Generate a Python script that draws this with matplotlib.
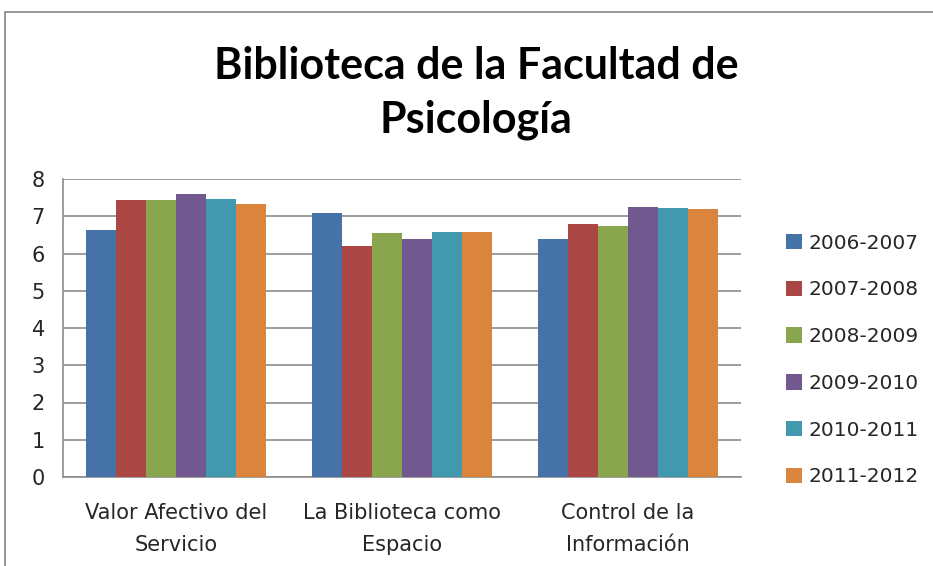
import matplotlib
matplotlib.use("Agg")
import matplotlib.pyplot as plt
import numpy as np
from matplotlib.patches import Rectangle

# ── data ──────────────────────────────────────────────────────────────────────
categories = ["Valor Afectivo del\nServicio", "La Biblioteca como\nEspacio", "Control de la\nInformación"]
series_names = ["2006-2007", "2007-2008", "2008-2009", "2009-2010", "2010-2011", "2011-2012"]
v_2006 = [6.63, 7.09, 6.39]
v_2007 = [7.44, 6.20, 6.78]
v_2008 = [7.44, 6.54, 6.74]
v_2009 = [7.60, 6.39, 7.26]
v_2010 = [7.47, 6.58, 7.23]
v_2011 = [7.33, 6.58, 7.20]
series_values = [v_2006, v_2007, v_2008, v_2009, v_2010, v_2011]
colors = ["#4572A7", "#AA4643", "#89A54E", "#71588F", "#4198AF", "#DB843D"]

W, H = 933, 566
fig = plt.figure(figsize=(W / 100, H / 100), dpi=100)
ax = fig.add_axes([63 / W, 1 - 477 / H, (741 - 63) / W, (477 - 179) / H])

# chart frame (cut off at right / bottom like the screenshot)
fig.patches.append(Rectangle((5 / W, -0.1), 2.0, 1 - 12 / H + 0.1,
                             transform=fig.transFigure, fill=False,
                             edgecolor="#868686", linewidth=1.2))

n = len(series_names)
gap = 1.5
bw = 1.0 / (n + gap)
x = np.arange(len(categories))
for i, (name, vals) in enumerate(zip(series_names, series_values)):
    offs = -0.5 + bw * gap / 2 + bw * (i + 0.5)
    ax.bar(x + offs, vals, width=bw, color=colors[i], label=name,
           linewidth=0, zorder=3)

ax.set_xlim(-0.5, len(categories) - 0.5)
ax.set_ylim(0, 8)
ax.set_yticks(range(0, 9))
ax.yaxis.grid(True, color="#8c8c8c", linewidth=1.2, zorder=0)
ax.set_xticks(x)
ax.set_xticklabels(categories, linespacing=1.75)
ax.tick_params(axis="both", length=0, labelsize=15, labelcolor="#262626")
ax.tick_params(axis="x", pad=19)
ax.tick_params(axis="y", pad=13)
for s in ["top", "right"]:
    ax.spines[s].set_visible(False)
for s in ["left", "bottom"]:
    ax.spines[s].set_color("#8c8c8c")
    ax.spines[s].set_linewidth(1.2)

fig.text(476 / W, 1 - 93 / H, "Biblioteca de la Facultad de\nPsicología",
         ha="center", va="center", fontsize=31, fontweight="bold",
         family=["Lato", "DejaVu Sans"], linespacing=1.4)

ax.legend(loc="center left", bbox_to_anchor=(776 / W, 1 - 360 / H),
          bbox_transform=fig.transFigure, frameon=False, fontsize=14.5,
          handlelength=0.8, handleheight=0.8, handletextpad=0.3,
          labelspacing=1.38, borderpad=0, labelcolor="#262626")

fig.savefig("out.png", dpi=100)
